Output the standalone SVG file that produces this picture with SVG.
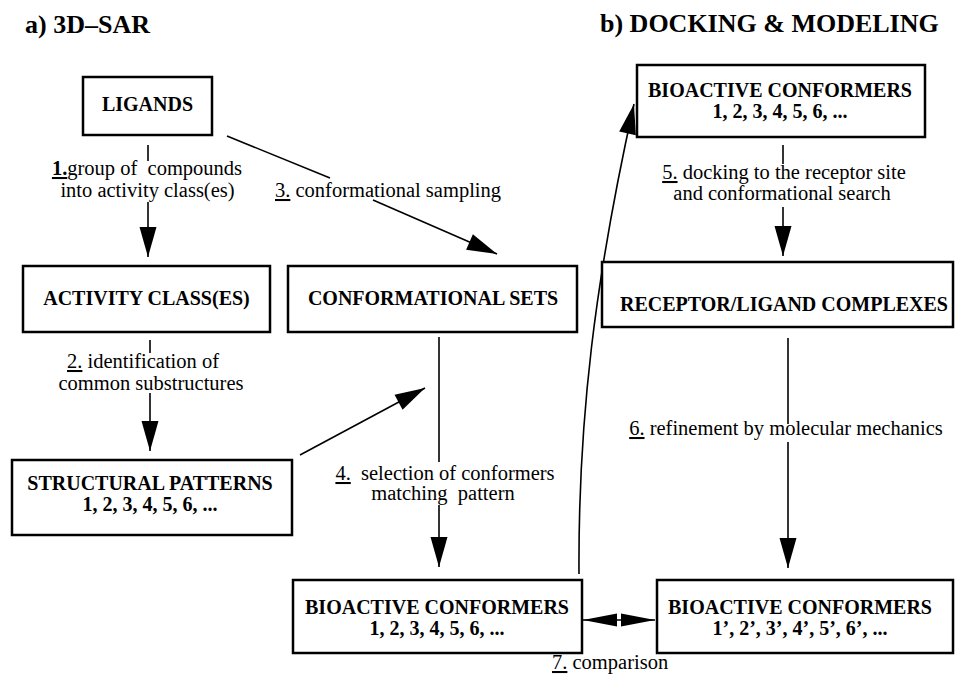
<svg xmlns="http://www.w3.org/2000/svg" width="959" height="681" viewBox="0 0 959 681">
<style>
.box{fill:#fff;stroke:#000;stroke-width:2.5}
.nt{font-family:"Liberation Serif","Times New Roman",serif;font-weight:bold;font-size:20px;fill:#000;text-anchor:middle}
.lb{font-family:"Liberation Serif","Times New Roman",serif;font-size:20.5px;fill:#000;white-space:pre}
.mid{text-anchor:middle}
.num{text-decoration:underline}
.title{font-family:"Liberation Serif","Times New Roman",serif;font-weight:bold;font-size:26px;fill:#000}
.ln{fill:none;stroke:#000;stroke-width:1.6}
</style>
<defs>
<marker id="ah" markerUnits="userSpaceOnUse" markerWidth="30" markerHeight="17" refX="30" refY="8.5" orient="auto" overflow="visible"><path d="M0,0 L30,8.5 L0,17 z" fill="#000"/></marker>
<marker id="ahs" markerUnits="userSpaceOnUse" markerWidth="34" markerHeight="13" refX="34" refY="6.5" orient="auto-start-reverse" overflow="visible"><path d="M0,0 L34,6.5 L0,13 z" fill="#000"/></marker>
</defs>
<rect width="959" height="681" fill="#fff"/>
<text class="title" x="25" y="33">a) 3D–SAR</text>
<text class="title" x="600" y="32">b) DOCKING &amp; MODELING</text>

<g id="connectors">
<line class="ln" x1="148" y1="145" x2="148" y2="161"/>
<line class="ln" x1="148" y1="202" x2="148" y2="257" marker-end="url(#ah)"/>
<line class="ln" x1="150" y1="340" x2="150" y2="353"/>
<line class="ln" x1="150" y1="393" x2="150" y2="451" marker-end="url(#ah)"/>
<line class="ln" x1="227" y1="136" x2="330" y2="178"/>
<line class="ln" x1="373" y1="200" x2="497" y2="254" marker-end="url(#ah)"/>
<line class="ln" x1="300" y1="455" x2="425" y2="388" marker-end="url(#ah)"/>
<line class="ln" x1="439" y1="337" x2="439" y2="462"/>
<line class="ln" x1="439" y1="505" x2="439" y2="567" marker-end="url(#ah)"/>
<path class="ln" d="M579,574 C578,420 595,280 634,104" marker-end="url(#ah)"/>
<line class="ln" x1="783" y1="145" x2="783" y2="164"/>
<line class="ln" x1="783" y1="207" x2="783" y2="256" marker-end="url(#ah)"/>
<line class="ln" x1="788" y1="338" x2="788" y2="424"/>
<line class="ln" x1="788" y1="442" x2="788" y2="568" marker-end="url(#ah)"/>
<line class="ln" x1="583" y1="620" x2="655" y2="620" marker-start="url(#ahs)" marker-end="url(#ahs)"/>
</g>

<g id="labels">
<text class="lb mid" x="147" y="175"><tspan class="num" font-weight="bold">1.</tspan>group of  compounds</text>
<text class="lb mid" x="147.5" y="197">into activity class(es)</text>
<text class="lb mid" x="143" y="368"><tspan class="num">2.</tspan> identification of</text>
<text class="lb mid" x="151" y="390">common substructures</text>
<text class="lb" x="275" y="197"><tspan class="num">3.</tspan> conformational sampling</text>
<text class="lb mid" x="445" y="480"><tspan class="num">4.</tspan>  selection of conformers</text>
<text class="lb mid" x="443" y="500">matching  pattern</text>
<text class="lb mid" x="784" y="179"><tspan class="num">5.</tspan> docking to the receptor site</text>
<text class="lb mid" x="782" y="200">and conformational search</text>
<text class="lb mid" x="786" y="435"><tspan class="num">6.</tspan> refinement by molecular mechanics</text>
<text class="lb" x="552" y="669"><tspan class="num">7.</tspan> comparison</text>
</g>

<g id="ligands"><rect class="box" x="83" y="77" width="129" height="58"/><text class="nt" x="147.5" y="111">LIGANDS</text></g>
<g id="activity"><rect class="box" x="23" y="266" width="247" height="66"/><text class="nt" x="146.5" y="305">ACTIVITY CLASS(ES)</text></g>
<g id="confsets"><rect class="box" x="288" y="266" width="289" height="66"/><text class="nt" x="433" y="305">CONFORMATIONAL SETS</text></g>
<g id="structural"><rect class="box" x="12" y="460" width="280" height="75"/><text class="nt" x="150" y="490">STRUCTURAL PATTERNS</text><text class="nt" x="150" y="511">1, 2, 3, 4, 5, 6, ...</text></g>
<g id="bio-left"><rect class="box" x="293" y="580" width="289" height="73"/><text class="nt" x="437" y="614">BIOACTIVE CONFORMERS</text><text class="nt" x="437" y="635">1, 2, 3, 4, 5, 6, ...</text></g>
<g id="bio-top"><rect class="box" x="637" y="65" width="288" height="72"/><text class="nt" x="780" y="97">BIOACTIVE CONFORMERS</text><text class="nt" x="780" y="118">1, 2, 3, 4, 5, 6, ...</text></g>
<g id="receptor"><rect class="box" x="602" y="262" width="351" height="65"/><text class="nt" x="784" y="311">RECEPTOR/LIGAND COMPLEXES</text></g>
<g id="bio-right"><rect class="box" x="657" y="580" width="296" height="73"/><text class="nt" x="800" y="614">BIOACTIVE CONFORMERS</text><text class="nt" x="800" y="635">1’, 2’, 3’, 4’, 5’, 6’, ...</text></g>
</svg>
